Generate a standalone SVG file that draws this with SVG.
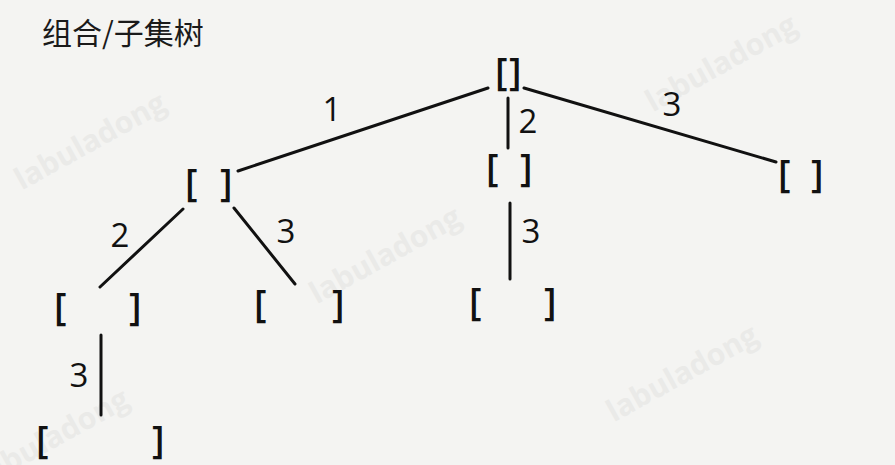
<svg xmlns="http://www.w3.org/2000/svg" width="895" height="465" viewBox="0 0 895 465">
<style>
.bg{fill:#f4f4f2}
.wm{font-family:"Open Sans","DejaVu Sans",sans-serif;font-weight:bold;font-size:30px;fill:#eaeae8;text-anchor:middle}
.title{font-family:"Noto Sans CJK SC","Noto Sans",sans-serif;font-size:30px;fill:#1a1a1a}
.br{font-family:"Open Sans","Noto Sans",sans-serif;font-size:38px;font-weight:600;fill:#111}
.lb{font-family:"Open Sans","Noto Sans",sans-serif;font-size:33px;font-weight:500;fill:#111;text-anchor:middle}
.e{stroke:#111;stroke-width:3;fill:none;stroke-linecap:round}
</style>
<rect class="bg" x="0" y="0" width="895" height="465"/>
<g id="watermarks">
<text class="wm" transform="translate(95,150) rotate(-29)">labuladong</text>
<text class="wm" transform="translate(726,72) rotate(-29)">labuladong</text>
<text class="wm" transform="translate(390,264) rotate(-29)">labuladong</text>
<text class="wm" transform="translate(687,382) rotate(-29)">labuladong</text>
<text class="wm" transform="translate(58,446) rotate(-29)">labuladong</text>
</g>
<text id="title" class="title" x="42" y="44">组合/子集树</text>
<g id="connectors">
<line class="e" x1="488" y1="88" x2="238" y2="171"/>
<line class="e" x1="508" y1="98" x2="508" y2="148"/>
<line class="e" x1="524" y1="88" x2="776" y2="162"/>
<line class="e" x1="183" y1="209" x2="100" y2="287"/>
<line class="e" x1="234" y1="208" x2="295" y2="284"/>
<line class="e" x1="510" y1="203" x2="510" y2="279"/>
<line class="e" x1="101" y1="335" x2="101" y2="415"/>
<text class="lb" x="332" y="121">1</text>
<text class="lb" x="528" y="133">2</text>
<text class="lb" x="672" y="116">3</text>
<text class="lb" x="120" y="247">2</text>
<text class="lb" x="286" y="243">3</text>
<text class="lb" x="531" y="243">3</text>
<text class="lb" x="79" y="387">3</text>
</g>
<g id="root"><text class="br" y="85"><tspan x="495">[</tspan><tspan x="509">]</tspan></text></g>
<g id="n1"><text class="br" y="196"><tspan x="185">[</tspan><tspan x="220">]</tspan></text></g>
<g id="n2"><text class="br" y="181"><tspan x="486">[</tspan><tspan x="520">]</tspan></text></g>
<g id="n3"><text class="br" y="187"><tspan x="778">[</tspan><tspan x="811">]</tspan></text></g>
<g id="n12"><text class="br" y="320"><tspan x="54">[</tspan><tspan x="129">]</tspan></text></g>
<g id="n13"><text class="br" y="317"><tspan x="254">[</tspan><tspan x="332">]</tspan></text></g>
<g id="n23"><text class="br" y="315"><tspan x="469">[</tspan><tspan x="544">]</tspan></text></g>
<g id="n123"><text class="br" y="453"><tspan x="36">[</tspan><tspan x="152">]</tspan></text></g>
</svg>
